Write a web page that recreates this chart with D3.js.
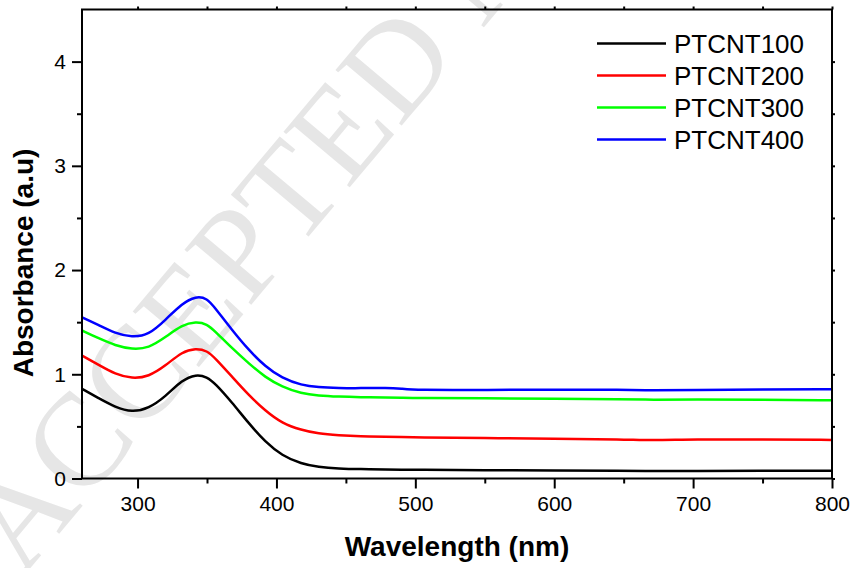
<!DOCTYPE html>
<html>
<head>
<meta charset="utf-8">
<script src="https://cdn.jsdelivr.net/npm/d3@7"></script>
<style>
  body { margin: 0; background: #fff; }
  svg { display: block; font-family: "Liberation Sans", Arial, sans-serif; }
</style>
</head>
<body>
<svg width="853" height="568"></svg>
<script>
const margin = { left: 82, right: 21, top: 9.5, bottom: 89.5 }

const width = 853,
    height = 568;

// data
const wavelength = [260, 272, 284, 296, 308, 320, 332, 342, 350, 356, 368, 380, 392, 404, 418, 430, 445, 460, 480, 490, 500, 550, 600, 650, 670, 700, 750, 800];
const ptcnt100 = [0.86, 0.77, 0.683, 0.635, 0.672, 0.785, 0.945, 1.0, 0.975, 0.91, 0.73, 0.53, 0.35, 0.22, 0.14, 0.11, 0.095, 0.09, 0.087, 0.085, 0.083, 0.08, 0.078, 0.075, 0.071, 0.073, 0.073, 0.075];
const ptcnt200 = [1.18, 1.09, 1.0, 0.958, 0.977, 1.08, 1.217, 1.25, 1.227, 1.153, 0.977, 0.80, 0.65, 0.53, 0.465, 0.43, 0.415, 0.405, 0.40, 0.398, 0.395, 0.388, 0.38, 0.376, 0.365, 0.376, 0.375, 0.37];
const ptcnt300 = [1.42, 1.345, 1.275, 1.24, 1.25, 1.355, 1.473, 1.505, 1.483, 1.41, 1.25, 1.105, 0.97, 0.88, 0.815, 0.795, 0.785, 0.78, 0.777, 0.775, 0.772, 0.77, 0.765, 0.76, 0.755, 0.758, 0.756, 0.75];
const ptcnt400 = [1.547, 1.473, 1.393, 1.355, 1.377, 1.52, 1.68, 1.75, 1.73, 1.633, 1.425, 1.233, 1.073, 0.962, 0.895, 0.875, 0.868, 0.866, 0.872, 0.862, 0.848, 0.85, 0.852, 0.852, 0.845, 0.848, 0.855, 0.857];

const series_names = ["PTCNT100", "PTCNT200", "PTCNT300", "PTCNT400"];
const series_values = [ptcnt100, ptcnt200, ptcnt300, ptcnt400];
const series_colors = ["#000000", "#ff0000", "#00ff00", "#0000ff"];

const x_ticks = [300, 400, 500, 600, 700, 800];
const x_minor = [350, 450, 550, 650, 750];
const y_ticks = [0, 1, 2, 3, 4];
const y_minor = [0.5, 1.5, 2.5, 3.5];

const x_label = "Wavelength (nm)";
const y_label = "Absorbance (a.u)";
const watermark = "ACCEPTED MANUSCRIPT";

const svg = d3.select("svg").attr("viewBox", [0, 0, width, height]);

const x_scale = d3.scaleLinear().domain([260, 800]).range([margin.left, width - margin.right]);
const y_scale = d3.scaleLinear().domain([0, 4.5]).range([height - margin.bottom, margin.top]);

// faint watermark behind the chart
svg.append("text")
  .attr("transform", "translate(22,578) rotate(-50)")
  .style("font-family", "'Liberation Serif', 'Times New Roman', serif")
  .style("font-size", "132px")
  .attr("fill", "#e6e6e6")
  .text(watermark);

// minor ticks first, then major axes on top
const x_axis = d3.axisBottom(x_scale).tickValues(x_ticks).tickSize(10).tickSizeOuter(0).tickPadding(8).tickFormat(d3.format("d"));
const x_axis_minor = d3.axisBottom(x_scale).tickValues(x_minor).tickSize(5).tickSizeOuter(0).tickFormat("");
const y_axis = d3.axisLeft(y_scale).tickValues(y_ticks).tickSize(10).tickSizeOuter(0).tickPadding(6).tickFormat(d3.format("d"));
const y_axis_minor = d3.axisLeft(y_scale).tickValues(y_minor).tickSize(5).tickSizeOuter(0).tickFormat("");
const top_axis = d3.axisTop(x_scale).tickValues(x_ticks.concat(x_minor)).tickSize(3).tickSizeOuter(0).tickFormat("");
const right_axis = d3.axisRight(y_scale).tickValues(y_ticks.concat(y_minor)).tickSize(3).tickSizeOuter(0).tickFormat("");

const plot_bottom = height - margin.bottom;
const plot_right = width - margin.right;

function style_axis(g) {
  g.select(".domain").remove();
  g.selectAll(".tick line").attr("stroke", "#000").attr("stroke-width", 2);
  g.selectAll(".tick text")
    .attr("fill", "#000")
    .style("font-family", "'Liberation Sans', Arial, sans-serif")
    .style("font-size", "21px");
}

svg.append("g").attr("transform", `translate(0,${plot_bottom})`).call(x_axis_minor).call(style_axis);
svg.append("g").attr("transform", `translate(0,${plot_bottom})`).call(x_axis).call(style_axis);
svg.append("g").attr("transform", `translate(${margin.left},0)`).call(y_axis_minor).call(style_axis);
svg.append("g").attr("transform", `translate(${margin.left},0)`).call(y_axis).call(style_axis);
svg.append("g").attr("transform", `translate(0,${margin.top})`).call(top_axis).call(style_axis);
svg.append("g").attr("transform", `translate(${plot_right},0)`).call(right_axis).call(style_axis);

// the data lines
const line_generator = (vals) => d3.line()
  .x((d, i) => x_scale(wavelength[i]))
  .y((d) => y_scale(d))
  .curve(d3.curveBasis)(vals);

svg.append("defs").append("clipPath").attr("id", "plot_clip")
  .append("rect")
  .attr("x", margin.left).attr("y", margin.top)
  .attr("width", plot_right - margin.left).attr("height", plot_bottom - margin.top);

svg.append("g").attr("clip-path", "url(#plot_clip)")
  .selectAll("path")
  .data(series_values)
  .join("path")
  .attr("fill", "none")
  .attr("stroke", (d, i) => series_colors[i])
  .attr("stroke-width", 2.5)
  .attr("d", (d) => line_generator(d));

// frame
svg.append("rect")
  .attr("x", margin.left).attr("y", margin.top)
  .attr("width", plot_right - margin.left).attr("height", plot_bottom - margin.top)
  .attr("fill", "none")
  .attr("stroke", "#000")
  .attr("stroke-width", 2);

// legend
const legend = svg.append("g").selectAll("g")
  .data(series_names)
  .join("g")
  .attr("transform", (d, i) => `translate(597,${43.5 + i * 32})`);
legend.append("line")
  .attr("x1", 0).attr("x2", 69)
  .attr("stroke", (d, i) => series_colors[i])
  .attr("stroke-width", 2.5);
legend.append("text")
  .attr("x", 77)
  .attr("dy", "0.35em")
  .style("font-size", "26px")
  .attr("fill", "#000")
  .text((d) => d);

// axis titles
svg.append("text")
  .attr("x", (margin.left + plot_right) / 2)
  .attr("y", 556)
  .attr("text-anchor", "middle")
  .style("font-size", "28px")
  .style("font-weight", "bold")
  .text(x_label);
svg.append("text")
  .attr("text-anchor", "middle")
  .attr("transform", "translate(33,263) rotate(-90)")
  .style("font-size", "28px")
  .style("font-weight", "bold")
  .text(y_label);
</script>
</body>
</html>
